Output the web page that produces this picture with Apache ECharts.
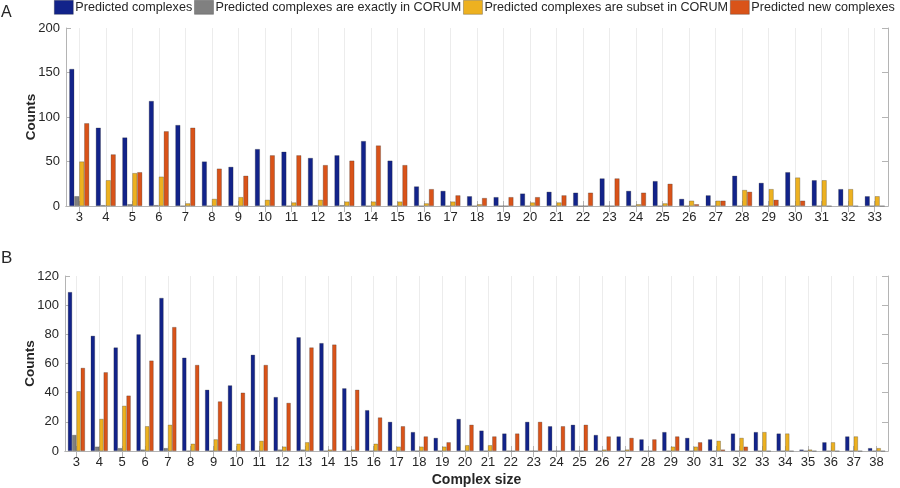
<!DOCTYPE html>
<html>
<head>
<meta charset="utf-8">
<script src="https://cdn.jsdelivr.net/npm/echarts@6/dist/echarts.min.js"></script>
<style>
html,body{margin:0;padding:0;background:#fff;}
#chart{width:900px;height:488px;}
</style>
</head>
<body>
<div id="chart"></div>
<script>
// ---- Data ----
var seriesNames = ['Predicted complexes', 'Predicted complexes are exactly in CORUM', 'Predicted complexes are subset in CORUM', 'Predicted new complexes'];

var catsA = ['3','4','5','6','7','8','9','10','11','12','13','14','15','16','17','18','19','20','21','22','23','24','25','26','27','28','29','30','31','32','33'];
var predA   = [154,88,77,118,91,50,44,64,61,54,57,73,51,22,17,11,10,14,16,15,31,17,28,8,12,34,26,38,29,19,11];
var exactA  = [11,1,2,1,0,0,0,0,0,1,1,0,0,0,0,0,0,0,0,0,0,0,0,0,0,0,0,0,0,0,0];
var subsetA = [50,29,37,33,3,8,10,7,4,7,5,5,5,3,5,2,0,4,4,0,0,2,3,6,6,18,19,32,29,19,11];
var newA    = [93,58,38,84,88,42,34,57,57,46,51,68,46,19,12,9,10,10,12,15,31,15,25,2,6,16,7,6,0,0,0];

var catsB = ['3','4','5','6','7','8','9','10','11','12','13','14','15','16','17','18','19','20','21','22','23','24','25','26','27','28','29','30','31','32','33','34','35','36','37','38'];
var predB   = [109,79,71,80,105,64,42,45,66,37,78,74,43,28,20,13,9,22,14,12,20,17,18,11,10,8,13,9,8,12,13,12,1,6,10,2];
var exactB  = [11,3,2,1,2,0,0,0,0,1,1,0,0,0,0,0,0,0,0,0,0,0,0,0,0,0,0,0,0,0,0,0,0,0,0,0];
var subsetB = [41,22,31,17,18,5,8,5,7,3,6,1,1,5,3,3,3,4,4,0,0,0,0,1,1,0,3,3,7,9,13,12,1,6,10,2];
var newB    = [57,54,38,62,85,59,34,40,59,33,71,73,42,23,17,10,6,18,10,12,20,17,18,10,9,8,10,6,1,3,0,0,0,0,0,0];

var yTicksA = {min:0, max:200, interval:50};
var yTicksB = {min:0, max:120, interval:20};

// ---- Styles ----
var colors = ['#12238a', '#808080', '#EDB120', '#D95319'];
var font = 'Liberation Sans, Arial, sans-serif';
var boxColor = '#b4b4b4';
var labelColor = '#262626';

function xAxes(cats, gridIndex, showName) {
  return [{
    type: 'category', data: cats, gridIndex: gridIndex, position: 'bottom',
    name: showName ? 'Complex size' : '',
    nameLocation: 'middle', nameGap: 22,
    nameTextStyle: {fontFamily: font, fontSize: 14, fontWeight: 'bold', color: labelColor},
    axisLine: {show: true, lineStyle: {color: boxColor, width: 1}},
    axisTick: {show: true, inside: true, alignWithLabel: true, length: 5, lineStyle: {color: boxColor}},
    axisLabel: {fontFamily: font, fontSize: 13, color: labelColor, margin: 5, interval: 0},
    splitLine: {show: true, alignWithLabel: true, lineStyle: {color: '#ececec', width: 1}}
  }, {
    type: 'category', data: cats, gridIndex: gridIndex, position: 'top',
    axisLine: {show: true, lineStyle: {color: boxColor, width: 1}},
    axisTick: {show: true, inside: true, alignWithLabel: true, length: 6, lineStyle: {color: boxColor}},
    axisLabel: {show: false},
    splitLine: {show: false}
  }];
}

function yAxes(t, gridIndex) {
  return [{
    type: 'value', gridIndex: gridIndex, min: t.min, max: t.max, interval: t.interval, position: 'left',
    name: 'Counts', nameLocation: 'middle', nameGap: 28, nameRotate: 90, nameMoveOverlap: false,
    nameTextStyle: {fontFamily: font, fontSize: 13.5, fontWeight: 'bold', color: labelColor},
    axisLine: {show: true, lineStyle: {color: boxColor, width: 1}},
    axisTick: {show: true, inside: true, length: 5, lineStyle: {color: boxColor}},
    axisLabel: {fontFamily: font, fontSize: 13, color: labelColor, margin: 6},
    splitLine: {show: false}
  }, {
    type: 'value', gridIndex: gridIndex, min: t.min, max: t.max, interval: t.interval, position: 'right',
    axisLine: {show: true, lineStyle: {color: boxColor, width: 1}},
    axisTick: {show: true, inside: true, length: 6, lineStyle: {color: boxColor}},
    axisLabel: {show: false},
    splitLine: {show: false}
  }];
}

function barSeries(name, data, idx, axisBase) {
  return {
    name: name, type: 'bar', data: data,
    xAxisIndex: axisBase, yAxisIndex: axisBase,
    barGap: '0%', barCategoryGap: '25%',
    itemStyle: {color: colors[idx], borderColor: 'rgba(40,40,40,0.45)', borderWidth: 0.6},
    emphasis: {disabled: true},
    animation: false
  };
}

var series = [];
[predA, exactA, subsetA, newA].forEach(function (d, i) { series.push(barSeries(seriesNames[i], d, i, 0)); });
[predB, exactB, subsetB, newB].forEach(function (d, i) { series.push(barSeries(seriesNames[i], d, i, 2)); });

var chart = echarts.init(document.getElementById('chart'), null, {renderer: 'canvas'});
chart.setOption({
  animation: false,
  backgroundColor: '#fff',
  color: colors,
  legend: {
    data: seriesNames, left: 54, top: 0, width: 846, padding: 0,
    itemWidth: 19, itemHeight: 14, itemGap: 2,
    icon: 'rect',
    selectedMode: false,
    itemStyle: {borderColor: 'rgba(40,40,40,0.5)', borderWidth: 0.6},
    textStyle: {fontFamily: font, fontSize: 12.6, color: labelColor, padding: [0, 0, 0, -3]}
  },
  graphic: [
    {type: 'text', left: 1, top: 5, style: {text: 'A', font: '16px ' + font, fill: labelColor}},
    {type: 'text', left: 1, top: 250, style: {text: 'B', font: '17px ' + font, fill: labelColor}}
  ],
  grid: [
    {left: 66, right: 12, top: 28, height: 178},
    {left: 65, right: 12, top: 276, height: 177}
  ],
  xAxis: xAxes(catsA, 0, false).concat(xAxes(catsB, 1, true)),
  yAxis: yAxes(yTicksA, 0).concat(yAxes(yTicksB, 1)),
  series: series
});
</script>
</body>
</html>
